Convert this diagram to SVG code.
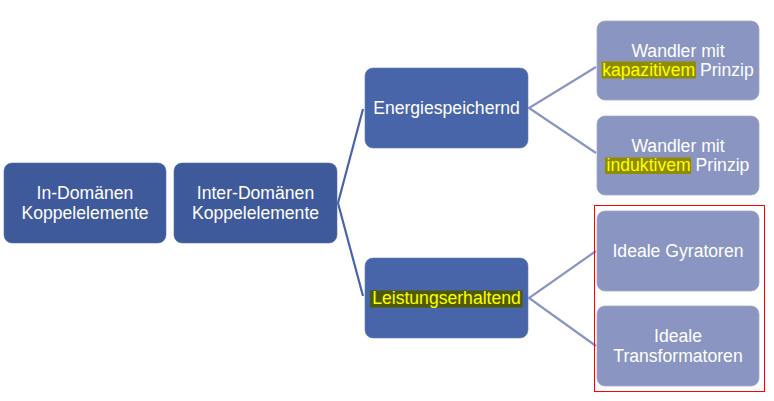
<svg xmlns="http://www.w3.org/2000/svg" width="774" height="401" viewBox="0 0 774 401">
<style>
.n1{fill:#3F5A9A;stroke:#5570B0;stroke-width:0.6}
.n2{fill:#4865AA;stroke:#5E78B6;stroke-width:0.6}
.n3{fill:#8A95C1;stroke:#9EA8CE;stroke-width:0.8}
.t{font-family:"Liberation Sans",Arial,sans-serif;font-size:17.6px;fill:#FFFFFF;text-anchor:middle}
.y{fill:#FFFF00}
.c1{stroke:#4865AA;stroke-width:2.2;fill:none}
.c2{stroke:#8A95C1;stroke-width:2.2;fill:none}
</style>
<rect width="774" height="401" fill="#FFFFFF"/>
<g id="connectors">
<polyline class="c1" points="363,109 338,203 363,296"/>
<polyline class="c2" points="596,67 529,108 596,153"/>
<polyline class="c2" points="596,251 529,298 596,346"/>
</g>
<g id="n-indomaenen">
<rect class="n1" x="4" y="163" width="162" height="80" rx="8"/>
<text class="t" x="85" y="198.5">In-Domänen</text>
<text class="t" x="85" y="218.5">Koppelelemente</text>
</g>
<g id="n-interdomaenen">
<rect class="n1" x="174" y="163" width="163" height="80" rx="8"/>
<text class="t" x="255.5" y="198.5">Inter-Domänen</text>
<text class="t" x="255.5" y="218.5">Koppelelemente</text>
</g>
<g id="n-energie">
<rect class="n2" x="365" y="68" width="163" height="80" rx="8"/>
<text class="t" x="446.5" y="114">Energiespeichernd</text>
</g>
<g id="n-leistung">
<rect class="n2" x="365" y="258" width="163" height="80" rx="8"/>
<rect x="370" y="290.5" width="152.5" height="17" fill="#4F5A05"/>
<text class="t y" x="446.5" y="304">Leistungserhaltend</text>
</g>
<g id="n-kapazitiv">
<rect class="n3" x="597" y="21" width="162" height="79" rx="8"/>
<rect x="601.5" y="61.5" width="94.5" height="17" fill="#8F8C00"/>
<text class="t" x="678" y="56.5">Wandler mit</text>
<text class="t" x="678" y="76"><tspan class="y">kapazitivem</tspan> Prinzip</text>
</g>
<g id="n-induktiv">
<rect class="n3" x="597" y="116" width="162" height="79" rx="8"/>
<rect x="605" y="157.5" width="86" height="16.5" fill="#8F8C00"/>
<text class="t" x="678" y="151.5">Wandler mit</text>
<text class="t" x="678" y="171"><tspan class="y">induktivem</tspan> Prinzip</text>
</g>
<rect x="594.5" y="205.5" width="170" height="186" fill="none" stroke="#FF0000" stroke-width="1"/>
<g id="n-gyratoren">
<rect class="n3" x="597" y="211" width="162" height="80" rx="8"/>
<text class="t" x="678" y="257">Ideale Gyratoren</text>
</g>
<g id="n-transformatoren">
<rect class="n3" x="597" y="306" width="162" height="80" rx="8"/>
<text class="t" x="678" y="342">Ideale</text>
<text class="t" x="678" y="362">Transformatoren</text>
</g>
</svg>
